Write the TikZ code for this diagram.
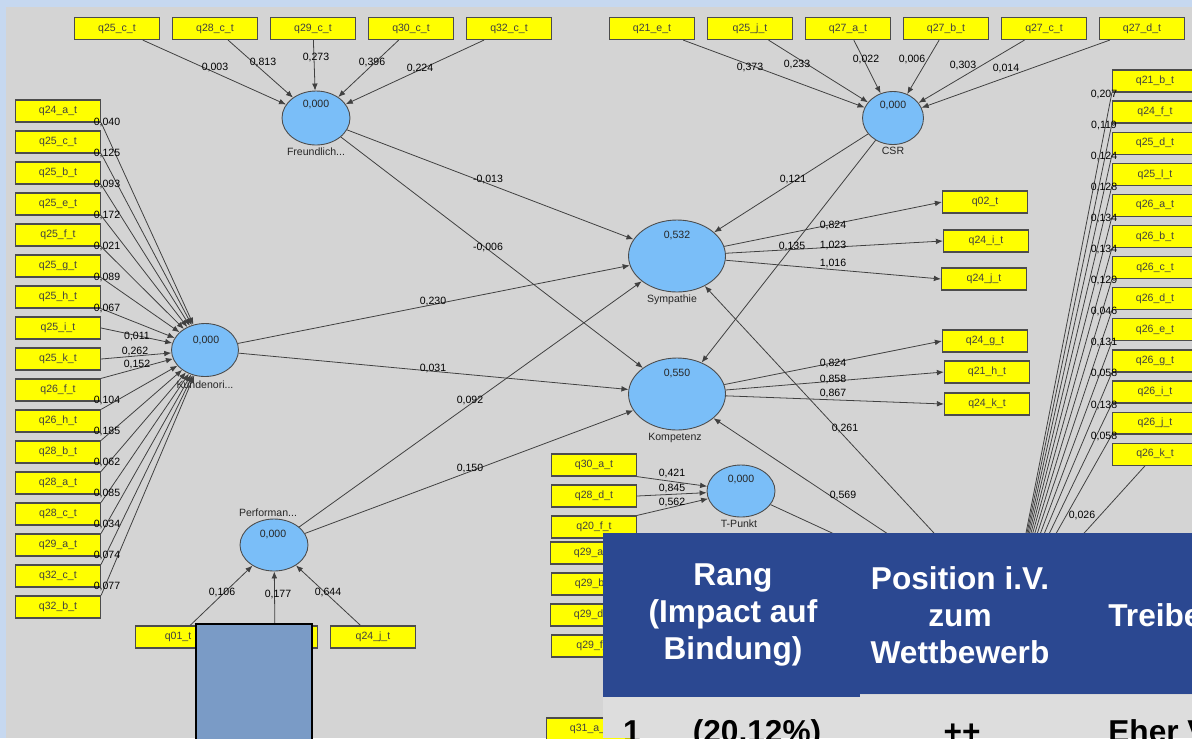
\documentclass[tikz,border=0pt]{standalone}
\usepackage{fontspec}
\setmainfont{Liberation Sans}
\usetikzlibrary{shapes.geometric,arrows.meta}
\definecolor{bandblue}{RGB}{198,216,240}
\definecolor{canvas}{RGB}{212,212,212}
\definecolor{lvblue}{RGB}{122,190,248}
\definecolor{hdrblue}{RGB}{43,72,145}
\definecolor{rowgrey}{RGB}{221,221,221}
\definecolor{panelblue}{RGB}{122,155,198}
\definecolor{indyellow}{RGB}{255,255,0}

\begin{document}
\begin{tikzpicture}[x=0.02cm,y=-0.02cm,
  ind/.style={rectangle, draw=black!70, fill=indyellow, line width=0.7pt,
    minimum width=1.7cm, minimum height=0.44cm, inner sep=0pt,
    font=\fontsize{6}{7}\selectfont, text=black!75},
  lv/.style={ellipse, draw=black!70, fill=lvblue, line width=0.5pt, inner sep=0pt},
  val/.style={font=\fontsize{6}{7}\selectfont, text=black!85, inner sep=0pt},
  lab/.style={font=\fontsize{6}{7}\selectfont, inner sep=0pt},
  link/.style={draw=black!75, line width=0.45pt},
  arr/.style={link, -{Latex[length=4pt,width=3.2pt]}},
  hdr/.style={font=\bfseries\fontsize{18}{21}\selectfont, text=white, align=center, inner sep=0pt},
  cell/.style={font=\bfseries\fontsize{18}{21}\selectfont, text=black, inner sep=0pt, anchor=base}
]
\useasboundingbox (0,0) rectangle (1192,738);
\clip (0,0) rectangle (1192,738);

% background
\fill[bandblue] (0,0) rectangle (1192,738);
\fill[canvas] (6,7) rectangle (1192,738);

% latent variables
\node[lv, minimum width=1.36cm, minimum height=1.08cm] (F) at (316,118) {};
\node[lv, minimum width=1.22cm, minimum height=1.06cm] (C) at (893,118) {};
\node[lv, minimum width=1.34cm, minimum height=1.06cm] (K) at (205,350) {};
\node[lv, minimum width=1.36cm, minimum height=1.04cm] (P) at (274,545) {};
\node[lv, minimum width=1.94cm, minimum height=1.44cm] (S) at (677,256) {};
\node[lv, minimum width=1.94cm, minimum height=1.44cm] (Kp) at (677,394) {};
\node[lv, minimum width=1.36cm, minimum height=1.04cm] (T) at (741,491) {};
\coordinate (B) at (1010,615);

% indicators
\foreach \t [count=\i] in {q25\_c\_t, q28\_c\_t, q29\_c\_t, q30\_c\_t, q32\_c\_t}
  \node[ind] (f\i) at ({117+98*(\i-1)},28.5) {\t};
\foreach \t [count=\i] in {q21\_e\_t, q25\_j\_t, q27\_a\_t, q27\_b\_t, q27\_c\_t, q27\_d\_t}
  \node[ind] (c\i) at ({652+98*(\i-1)},28.5) {\t};
\foreach \t [count=\i] in {q24\_a\_t, q25\_c\_t, q25\_b\_t, q25\_e\_t, q25\_f\_t, q25\_g\_t,
    q25\_h\_t, q25\_i\_t, q25\_k\_t, q26\_f\_t, q26\_h\_t, q28\_b\_t, q28\_a\_t, q28\_c\_t,
    q29\_a\_t, q32\_c\_t, q32\_b\_t}
  \node[ind] (b\i) at (58,{111+31*(\i-1)}) {\t};
\foreach \t [count=\i] in {q21\_b\_t, q24\_f\_t, q25\_d\_t, q25\_l\_t, q26\_a\_t, q26\_b\_t,
    q26\_c\_t, q26\_d\_t, q26\_e\_t, q26\_g\_t, q26\_i\_t, q26\_j\_t, q26\_k\_t}
  \node[ind] (r\i) at (1155,{81+31.1*(\i-1)}) {\t};
\node[ind] (s1) at (985,202) {q02\_t};
\node[ind] (s2) at (986,241) {q24\_i\_t};
\node[ind] (s3) at (984,279) {q24\_j\_t};
\node[ind] (k1) at (985,341) {q24\_g\_t};
\node[ind] (k2) at (987,372) {q21\_h\_t};
\node[ind] (k3) at (987,404) {q24\_k\_t};
\node[ind] (t1) at (594,465) {q30\_a\_t};
\node[ind] (t2) at (594,496) {q28\_d\_t};
\node[ind] (t3) at (594,527) {q20\_f\_t};
\node[ind] (t4) at (593,553) {q29\_a\_t};
\node[ind] (t5) at (594,584) {q29\_b\_t};
\node[ind] (t6) at (593,615) {q29\_d\_t};
\node[ind] (t7) at (594,646) {q29\_f\_t};
\node[ind] (t8) at (589,729) {q31\_a\_t};
\node[ind] (p1) at (178,637) {q01\_t};
\node[ind] (p2) at (275,637) {};
\node[ind] (p3) at (373,637) {q24\_j\_t};

% measurement paths
\foreach \i in {1,...,5} \draw[arr] (f\i) -- (F);
\foreach \i in {1,...,6} \draw[arr] (c\i) -- (C);
\foreach \i in {1,...,7} \draw[arr] (b\i.south east) -- (K);
\draw[arr] (b8.east) -- (K);
\draw[arr] (b9.east) -- (K);
\foreach \i in {10,...,17} \draw[arr] (b\i.north east) -- (K);
\foreach \i in {1,2,3} \draw[arr] (p\i) -- (P);
\draw[arr] (t1.south east) -- (T);
\draw[arr] (t2.east) -- (T);
\draw[arr] (t3.north east) -- (T);
\foreach \i in {1,2,3} {
  \draw[arr] (S) -- (s\i.west);
  \draw[arr] (Kp) -- (k\i.west);
}
\foreach \i in {1,...,12} \draw[link] (r\i.south west) -- (B);
\draw[link] ([xshift=-0.2cm]r13.south) -- (B);

% structural paths
\draw[arr] (F) -- (S);
\draw[arr] (F) -- (Kp);
\draw[arr] (C) -- (S);
\draw[arr] (C) -- (Kp);
\draw[arr] (K) -- (S);
\draw[arr] (K) -- (Kp);
\draw[arr] (P) -- (S);
\draw[arr] (P) -- (Kp);
\draw[arr] (B) -- (S);
\draw[arr] (B) -- (Kp);
\draw[arr] (T) -- (B);

% construct values and names
\node[val] (vF) at (316,104) {0,000};
\node[val] (nF) at (316,152) {Freundlich...};
\node[val] (vC) at (893,105) {0,000};
\node[val] (nC) at (893,151) {CSR};
\node[val] (vK) at (206,340) {0,000};
\node[val] (nK) at (205,385) {Kundenori...};
\node[val] (vP) at (273,534) {0,000};
\node[val] (nP) at (268,513) {Performan...};
\node[val] (vS) at (677,235) {0,532};
\node[val] (nS) at (672,300) {Sympathie};
\node[val] (vKp) at (677,373) {0,550};
\node[val] (nKp) at (675,438) {Kompetenz};
\node[val] (vT) at (741,479) {0,000};
\node[val] (nT) at (739,524) {T-Punkt};

% weights and loadings
\foreach \v/\x/\y [count=\i] in {{0,003}/215/67, {0,813}/263/62, {0,273}/316/57, {0,396}/372/62, {0,224}/420/68,
    {0,373}/750/67, {0,233}/797/64, {0,022}/866/59, {0,006}/912/59, {0,303}/963/65, {0,014}/1006/68}
  \node[lab] (wt\i) at (\x,\y) {\v};
\foreach \v/\y [count=\i] in {{0,040}/122, {0,125}/153, {0,093}/184, {0,172}/215, {0,021}/246, {0,089}/277, {0,067}/308,
    {0,104}/400, {0,185}/431, {0,062}/462, {0,085}/493, {0,034}/524, {0,074}/555, {0,077}/586}
  \node[lab] (wl\i) at (107,\y) {\v};
\node[lab] (wm1) at (137,336) {0,011};
\node[lab] (wm2) at (135,351) {0,262};
\node[lab] (wm3) at (137,364) {0,152};
\foreach \v [count=\i] in {{0,207},{0,119},{0,124},{0,128},{0,134},{0,134},{0,129},{0,046},{0,131},{0,058},{0,138},{0,058}}
  \node[lab] (wr\i) at (1104,{94+31.1*(\i-1)}) {\v};
\node[lab] (wr13) at (1082,515) {0,026};
\node[lab] (wp1) at (222,592) {0,106};
\node[lab] (wp2) at (278,594) {0,177};
\node[lab] (wp3) at (328,592) {0,644};
\node[lab] (wt1x) at (672,473) {0,421};
\node[lab] (wt2x) at (672,488) {0,845};
\node[lab] (wt3x) at (672,502) {0,562};
\node[lab] (ls1) at (833,225) {0,824};
\node[lab] (ls2) at (833,245) {1,023};
\node[lab] (ls3) at (833,263) {1,016};
\node[lab] (lk1) at (833,363) {0,824};
\node[lab] (lk2) at (833,379) {0,858};
\node[lab] (lk3) at (833,393) {0,867};

% path coefficients
\node[lab] (pc1) at (488,179) {-0,013};
\node[lab] (pc2) at (488,247) {-0,006};
\node[lab] (pc3) at (433,301) {0,230};
\node[lab] (pc4) at (433,368) {0,031};
\node[lab] (pc5) at (470,400) {0,092};
\node[lab] (pc6) at (470,468) {0,150};
\node[lab] (pc7) at (793,179) {0,121};
\node[lab] (pc8) at (792,246) {0,135};
\node[lab] (pc9) at (845,428) {0,261};
\node[lab] (pc10) at (843,495) {0,569};

% overlay panel
\filldraw[fill=panelblue, draw=black, line width=1.2pt] (196,624) rectangle (312,760);

% ranking table
\fill[rowgrey] (603,695) rectangle (1192,738);
\fill[hdrblue] (603,533) rectangle (860,697);
\fill[hdrblue] (860,533) rectangle (1192,694);
\node[hdr] (h1) at (733,615) {Rang\\(Impact auf\\Bindung)};
\node[hdr] (h2) at (960,615) {Position i.V.\\zum\\Wettbewerb};
\node[hdr, anchor=west] (h3) at (1108,615) {Treiber};
\node[cell] (d1) at (632,742) {1};
\node[cell] (d2) at (757,742) {(20,12\%)};
\node[cell] (d3) at (962,742) {++};
\node[cell, anchor=base west] (d4) at (1108,742) {Eher V};
\end{tikzpicture}
\end{document}
